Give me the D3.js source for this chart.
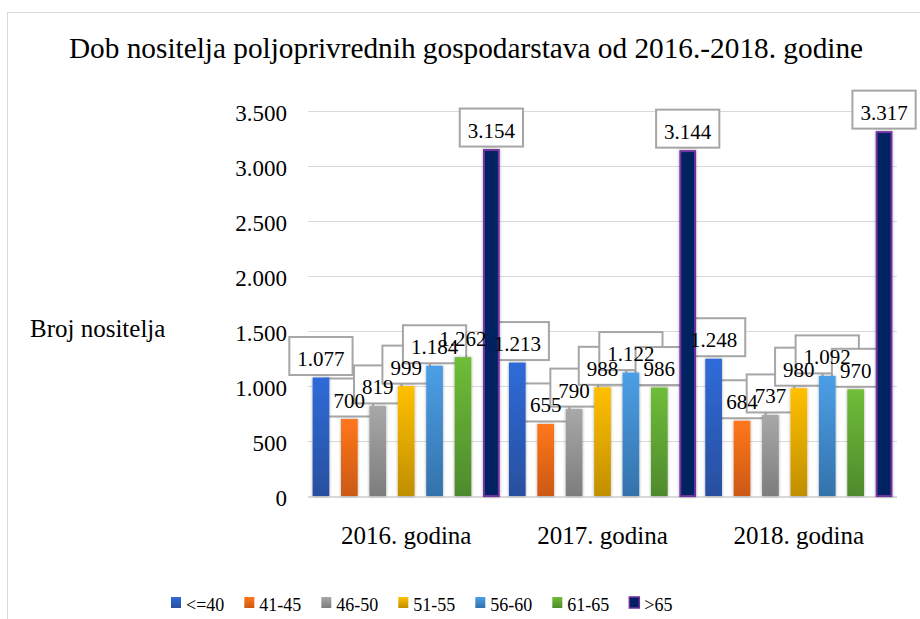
<!DOCTYPE html>
<html>
<head>
<meta charset="utf-8">
<script src="https://cdn.jsdelivr.net/npm/d3@7"></script>
<style>
  html, body { margin: 0; padding: 0; background: #fff; }
  svg { display: block; }
  svg text { font-family: "Liberation Serif", "Times New Roman", serif; }
</style>
</head>
<body>
<svg id="chart" width="920" height="619"></svg>
<script>
// ---- data ----
const title = "Dob nositelja poljoprivrednih gospodarstava od 2016.-2018. godine";
const yAxisTitle = "Broj nositelja";
const categories = ["2016. godina", "2017. godina", "2018. godina"];
const seriesNames = ["<=40", "41-45", "46-50", "51-55", "56-60", "61-65", ">65"];
const s_le40  = [1077, 1213, 1248];
const s_41_45 = [700, 655, 684];
const s_46_50 = [819, 790, 737];
const s_51_55 = [999, 988, 980];
const s_56_60 = [1184, 1122, 1092];
const s_61_65 = [1262, 986, 970];
const s_gt65  = [3154, 3144, 3317];
const seriesValues = [s_le40, s_41_45, s_46_50, s_51_55, s_56_60, s_61_65, s_gt65];
const yTicks = [0, 500, 1000, 1500, 2000, 2500, 3000, 3500];
const yMax = 3500;
// label drawn without its frame in the original
const unboxedLabels = [["2016. godina", "61-65"]];

// ---- styles ----
const gradTop    = ["#2f6bd9", "#ff771b", "#a8a8a8", "#ffc000", "#4c9fe6", "#6fbd38", "#002060"];
const gradBottom = ["#284f9f", "#cb5914", "#7d7d7d", "#c08f00", "#3472ab", "#4e8a2d", "#002060"];
const strokeCol  = [null, null, null, null, null, null, "#7030a0"];
const SERIF = "'Liberation Serif', 'Times New Roman', serif";

const fmt = v => d3.format(",")(v).replace(/,/g, ".");

const svg = d3.select("#chart");
const defs = svg.append("defs");
seriesNames.forEach((s, i) => {
  const g = defs.append("linearGradient").attr("id", "g" + i)
    .attr("x1", 0).attr("y1", 0).attr("x2", 0).attr("y2", 1);
  g.append("stop").attr("offset", "0%").attr("stop-color", gradTop[i]);
  g.append("stop").attr("offset", "100%").attr("stop-color", gradBottom[i]);
});
const f = defs.append("filter").attr("id", "shadow")
  .attr("x", "-50%").attr("y", "-10%").attr("width", "200%").attr("height", "120%");
f.append("feDropShadow").attr("dx", 0).attr("dy", 0).attr("stdDeviation", 1.8)
  .attr("flood-color", "#000").attr("flood-opacity", 0.35);

// frame
svg.append("rect").attr("x", 7.5).attr("y", 12.5).attr("width", 1000).attr("height", 1000)
  .attr("fill", "none").attr("stroke", "#d9d9d9").attr("stroke-width", 1);

// title
svg.append("text").attr("x", 466).attr("y", 58).attr("text-anchor", "middle")
  .style("font-family", SERIF).attr("font-size", 29.3).attr("fill", "#000").text(title);

// scales
const plotL = 308, plotR = 897, plotT = 111, plotB = 496;
const x0 = d3.scaleBand().domain(categories).range([plotL, plotR]).padding(0);
const x1 = d3.scaleBand().domain(seriesNames).range([0, x0.bandwidth()])
  .paddingInner(0.412).paddingOuter(0.162);
const y = d3.scaleLinear().domain([0, yMax]).range([plotB, plotT]);

// gridlines
svg.append("g").selectAll("line").data(yTicks.filter(t => t > 0)).join("line")
  .attr("x1", plotL).attr("x2", plotR)
  .attr("y1", d => Math.round(y(d)) + 0.5).attr("y2", d => Math.round(y(d)) + 0.5)
  .attr("stroke", "#d9d9d9").attr("stroke-width", 1.2);

// y axis via d3.axisLeft (tick labels only)
const yAxis = svg.append("g").attr("transform", `translate(${plotL - 21},0)`)
  .call(d3.axisLeft(y).tickValues(yTicks).tickFormat(fmt).tickSize(0).tickPadding(0));
yAxis.attr("font-family", null).attr("font-size", null);
yAxis.select(".domain").remove();
yAxis.selectAll("text").style("font-family", SERIF).attr("font-size", 23)
  .attr("fill", "#000").attr("dy", "0.42em");

// y axis title
svg.append("text").attr("x", 30).attr("y", 337).style("font-family", SERIF)
  .attr("font-size", 25).attr("fill", "#000").text(yAxisTitle);

// x axis labels
const xAxis = svg.append("g").attr("transform", `translate(0,${plotB})`)
  .call(d3.axisBottom(x0).tickSize(0).tickPadding(0));
xAxis.attr("font-family", null).attr("font-size", null);
xAxis.select(".domain").remove();
xAxis.selectAll("text").style("font-family", SERIF).attr("font-size", 25)
  .attr("fill", "#000").attr("dy", 0).attr("y", 48);

// flattened records
const recs = [];
seriesNames.forEach((s, si) => {
  categories.forEach((c, ci) => {
    recs.push({ s, si, c, v: seriesValues[si][ci] });
  });
});
const bx = d => x0(d.c) + x1(d.s);

// measure label widths
const meas = svg.append("text").style("font-family", SERIF).attr("font-size", 21).attr("visibility", "hidden");
recs.forEach(d => { meas.text(fmt(d.v)); d.tw = meas.node().getComputedTextLength(); });
meas.remove();

// label boxes (fill + border, series order)
const isUnboxed = d => unboxedLabels.some(u => u[0] === d.c && u[1] === d.s);
svg.append("g").selectAll("rect").data(recs.filter(d => !isUnboxed(d))).join("rect")
  .attr("x", d => bx(d) + x1.bandwidth() / 2 - (d.tw + 16) / 2)
  .attr("y", d => y(d.v) - 2.5 - 38)
  .attr("width", d => d.tw + 16)
  .attr("height", 38)
  .attr("fill", "#fff").attr("stroke", "#a6a6a6").attr("stroke-width", 2);

// axis base line
svg.append("line").attr("x1", plotL).attr("x2", plotR).attr("y1", plotB + 1).attr("y2", plotB + 1)
  .attr("stroke", "#d9d9d9").attr("stroke-width", 2);

// bars
svg.append("g").selectAll("rect").data(recs).join("rect")
  .attr("x", d => bx(d) + (strokeCol[d.si] ? 1 : 0))
  .attr("y", d => y(d.v) + (strokeCol[d.si] ? 1 : 0))
  .attr("width", d => x1.bandwidth() - (strokeCol[d.si] ? 2 : 0))
  .attr("height", d => plotB - y(d.v) - (strokeCol[d.si] ? 1 : 0))
  .attr("fill", d => `url(#g${d.si})`)
  .attr("stroke", d => strokeCol[d.si] || "none")
  .attr("stroke-width", 2)
  .attr("filter", "url(#shadow)");

// label texts
svg.append("g").selectAll("text").data(recs).join("text")
  .attr("x", d => bx(d) + x1.bandwidth() / 2)
  .attr("y", d => y(d.v) - 11.5)
  .attr("text-anchor", "middle").style("font-family", SERIF).attr("font-size", 21).attr("fill", "#000")
  .text(d => fmt(d.v));

// legend
const leg = svg.append("g");
let lx = 171;
seriesNames.forEach((s, i) => {
  leg.append("rect").attr("x", lx).attr("y", 597).attr("width", 10).attr("height", 11)
    .attr("fill", `url(#g${i})`)
    .attr("stroke", strokeCol[i] || "none").attr("stroke-width", strokeCol[i] ? 1.5 : 0);
  const t = leg.append("text").attr("x", lx + 15).attr("y", 611).style("font-family", SERIF)
    .attr("font-size", 18).attr("fill", "#000").text(s);
  lx += 15 + t.node().getComputedTextLength() + 20;
});
</script>
</body>
</html>
